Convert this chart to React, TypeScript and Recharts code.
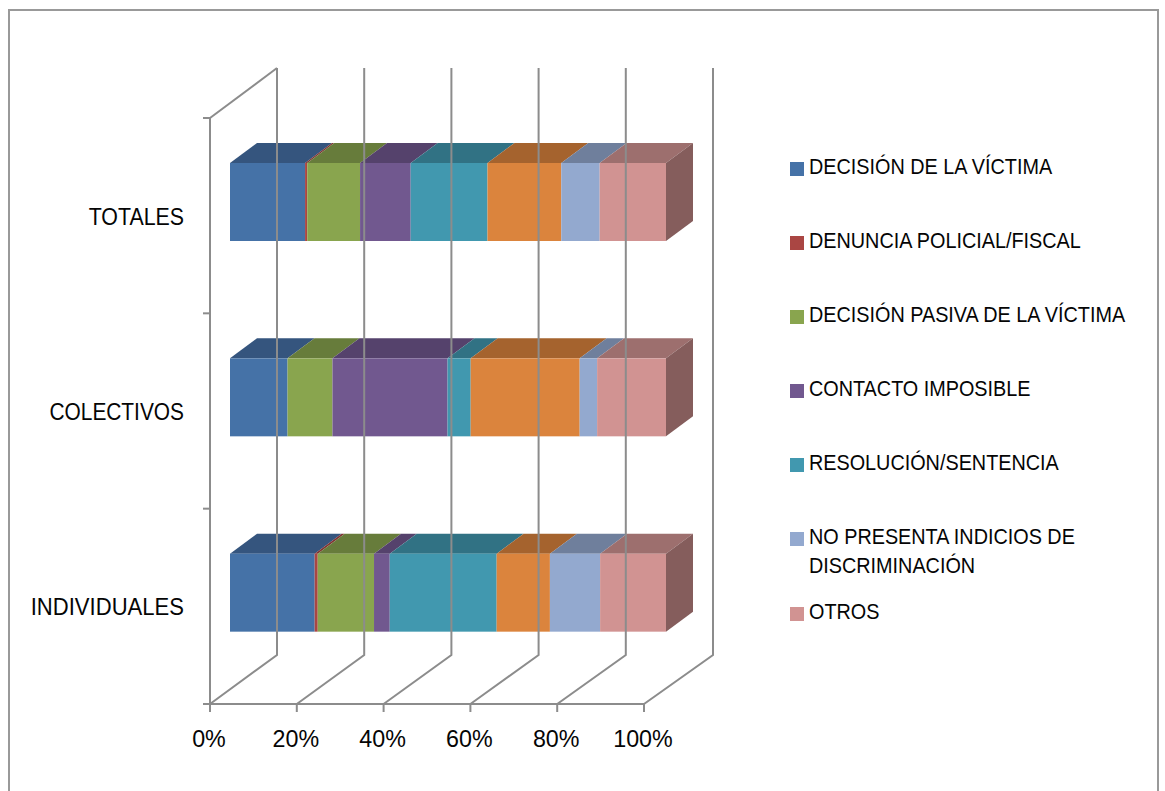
import React from 'react';
import { BarChart, Bar, XAxis, YAxis, Legend } from 'recharts';

const categories = ['TOTALES', 'COLECTIVOS', 'INDIVIDUALES'];
const decisionVictima = [17.2, 13.2, 19.4];
const denuncia = [0.5, 0, 0.7];
const decisionPasiva = [12.1, 10.3, 12.9];
const contacto = [11.6, 26.4, 3.6];
const resolucion = [17.6, 5.3, 24.5];
const sinLeyenda = [16.9, 25.0, 12.2];
const noPresenta = [8.8, 4.0, 11.5];
const otros = [15.2, 15.8, 15.1];
const tickValues = [0, 0.2, 0.4, 0.6, 0.8, 1];

const data = categories.map((name, i) => ({
  name,
  a: decisionVictima[i], b: denuncia[i], c: decisionPasiva[i], d: contacto[i],
  e: resolucion[i], f: sinLeyenda[i], g: noPresenta[i], h: otros[i],
}));

const series = [
  { key: 'a', name: 'DECISIÓN DE LA VÍCTIMA', front: '#4572A7', top: '#35557E' },
  { key: 'b', name: 'DENUNCIA POLICIAL/FISCAL', front: '#AA4643', top: '#803533' },
  { key: 'c', name: 'DECISIÓN PASIVA DE LA VÍCTIMA', front: '#89A54E', top: '#677C3B' },
  { key: 'd', name: 'CONTACTO IMPOSIBLE', front: '#71588F', top: '#55426C' },
  { key: 'e', name: 'RESOLUCIÓN/SENTENCIA', front: '#4198AF', top: '#317284' },
  { key: 'f', name: 'SIN LEYENDA', front: '#DB843D', top: '#A5632E', hidden: true },
  { key: 'g', name: 'NO PRESENTA INDICIOS DE DISCRIMINACIÓN', front: '#93A9CF', top: '#6F7F9C' },
  { key: 'h', name: 'OTROS', front: '#D19392', top: '#9D6F6E', side: '#855D5C' },
];

const legendTops = [152, 226, 300, 374, 448, 522, 597];
const labelScales = [0.89, 0.87, 0.92];
const AXIS = '#8C8C8C';
const TEXT = '#050505';
const FONT = '"Liberation Sans", Arial, sans-serif';

const PLOT_LEFT = 210, PLOT_TOP = 118, PLOT_RIGHT = 644, PLOT_BOTTOM = 704;
const DEPTH_X = 67, DEPTH_Y = 49;
const BAR_DX = 20, BAR_DY = -14;
const BAR_SCALE = 436 / 434;
const FACE_DX = 27, FACE_DY = 20;

const Shape3D = (s: any) => (props: any) => {
  const x0 = PLOT_LEFT + BAR_DX + (props.x - PLOT_LEFT) * BAR_SCALE;
  const w = props.width * BAR_SCALE;
  const y = props.y + BAR_DY;
  const h = props.height;
  if (!w) return <g />;
  return (
    <g>
      <polygon
        points={`${x0},${y} ${x0 + w},${y} ${x0 + w + FACE_DX},${y - FACE_DY} ${x0 + FACE_DX},${y - FACE_DY}`}
        fill={s.top}
      />
      <rect x={x0} y={y} width={w} height={h} fill={s.front} />
      {s.side && (
        <polygon
          points={`${x0 + w},${y} ${x0 + w + FACE_DX},${y - FACE_DY} ${x0 + w + FACE_DX},${y + h - FACE_DY} ${x0 + w},${y + h}`}
          fill={s.side}
        />
      )}
    </g>
  );
};

const XTick = (props: any) => {
  const { x, payload, index } = props;
  const base = PLOT_BOTTOM;
  const backX = PLOT_LEFT + DEPTH_X + (x - PLOT_LEFT) * BAR_SCALE;
  return (
    <g>
      <polyline
        points={`${x},${base} ${backX},${base - DEPTH_Y} ${backX},68`}
        fill="none" stroke={AXIS} strokeWidth={2}
      />
      {index === 0 && (
        <polyline points={`${x},${PLOT_TOP} ${backX},68`} fill="none" stroke={AXIS} strokeWidth={2} />
      )}
      <line x1={x} x2={x} y1={base} y2={base + 8} stroke={AXIS} strokeWidth={2} />
      <text transform={`translate(${x - 1},747) scale(0.97,1)`} textAnchor="middle" fontFamily={FONT} fontSize={24} fill={TEXT}>
        {`${Math.round(payload.value * 100)}%`}
      </text>
    </g>
  );
};

const YTick = (props: any) => {
  const { y, payload, index } = props;
  const band = (PLOT_BOTTOM - PLOT_TOP) / categories.length;
  return (
    <g>
      <line x1={PLOT_LEFT - 7} x2={PLOT_LEFT} y1={y - band / 2} y2={y - band / 2} stroke={AXIS} strokeWidth={2} />
      {index === categories.length - 1 && (
        <line x1={PLOT_LEFT - 7} x2={PLOT_LEFT} y1={y + band / 2} y2={y + band / 2} stroke={AXIS} strokeWidth={2} />
      )}
      <text transform={`translate(184,${y + 9}) scale(${labelScales[index]},1)`} textAnchor="end" fontFamily={FONT} fontSize={24} fill={TEXT}>
        {payload.value}
      </text>
    </g>
  );
};

const LegendContent = (props: any) => {
  const items = (props.payload || []).filter((it: any) => it.type !== 'none');
  return (
    <div style={{ position: 'relative', width: 1165, height: 791, fontFamily: FONT, fontSize: 22, color: TEXT, lineHeight: '29px' }}>
      {items.map((it: any, i: number) => (
        <div key={it.value} style={{ position: 'absolute', left: 790, top: legendTops[i], width: 370 }}>
          <span style={{ position: 'absolute', left: 0, top: 10, width: 14, height: 14, background: it.color }} />
          <span style={{ position: 'absolute', left: 19, top: 0, width: 400, transform: 'scaleX(0.9)', transformOrigin: 'left top' }}>{it.value}</span>
        </div>
      ))}
    </div>
  );
};

export default function App() {
  return (
    <div style={{ position: 'absolute', left: 0, top: 0, width: 1165, height: 791, overflow: 'hidden', background: '#fff' }}>
      <div style={{ position: 'absolute', left: 8, top: 9, width: 1147, height: 800, borderLeft: '2px solid #999', borderTop: '2px solid #999', borderRight: '2px solid #999' }} />
      <BarChart
        width={1165}
        height={791}
        layout="vertical"
        data={data}
        stackOffset="expand"
        barSize={78}
        margin={{ left: 0, top: PLOT_TOP, right: 1165 - PLOT_RIGHT, bottom: 0 }}
        style={{ position: 'absolute', left: 0, top: 0 }}
      >
        <XAxis
          type="number"
          domain={[0, 1]}
          ticks={tickValues}
          tick={<XTick />}
          tickLine={false}
          axisLine={{ stroke: AXIS, strokeWidth: 2 }}
          interval={0}
          height={791 - PLOT_BOTTOM}
        />
        <YAxis
          type="category"
          dataKey="name"
          tick={<YTick />}
          tickLine={false}
          axisLine={{ stroke: AXIS, strokeWidth: 2 }}
          width={PLOT_LEFT}
          interval={0}
        />
        {series.map((s) => (
          <Bar
            key={s.key}
            dataKey={s.key}
            name={s.name}
            stackId="all"
            fill={s.front}
            legendType={s.hidden ? 'none' : 'square'}
            shape={Shape3D(s)}
            isAnimationActive={false}
          />
        ))}
        <Legend
          layout="vertical"
          align="center"
          verticalAlign="middle"
          itemSorter={null}
          content={<LegendContent />}
          wrapperStyle={{ left: 0, top: 0, width: 1165, height: 791, pointerEvents: 'none' }}
        />
      </BarChart>
    </div>
  );
}
